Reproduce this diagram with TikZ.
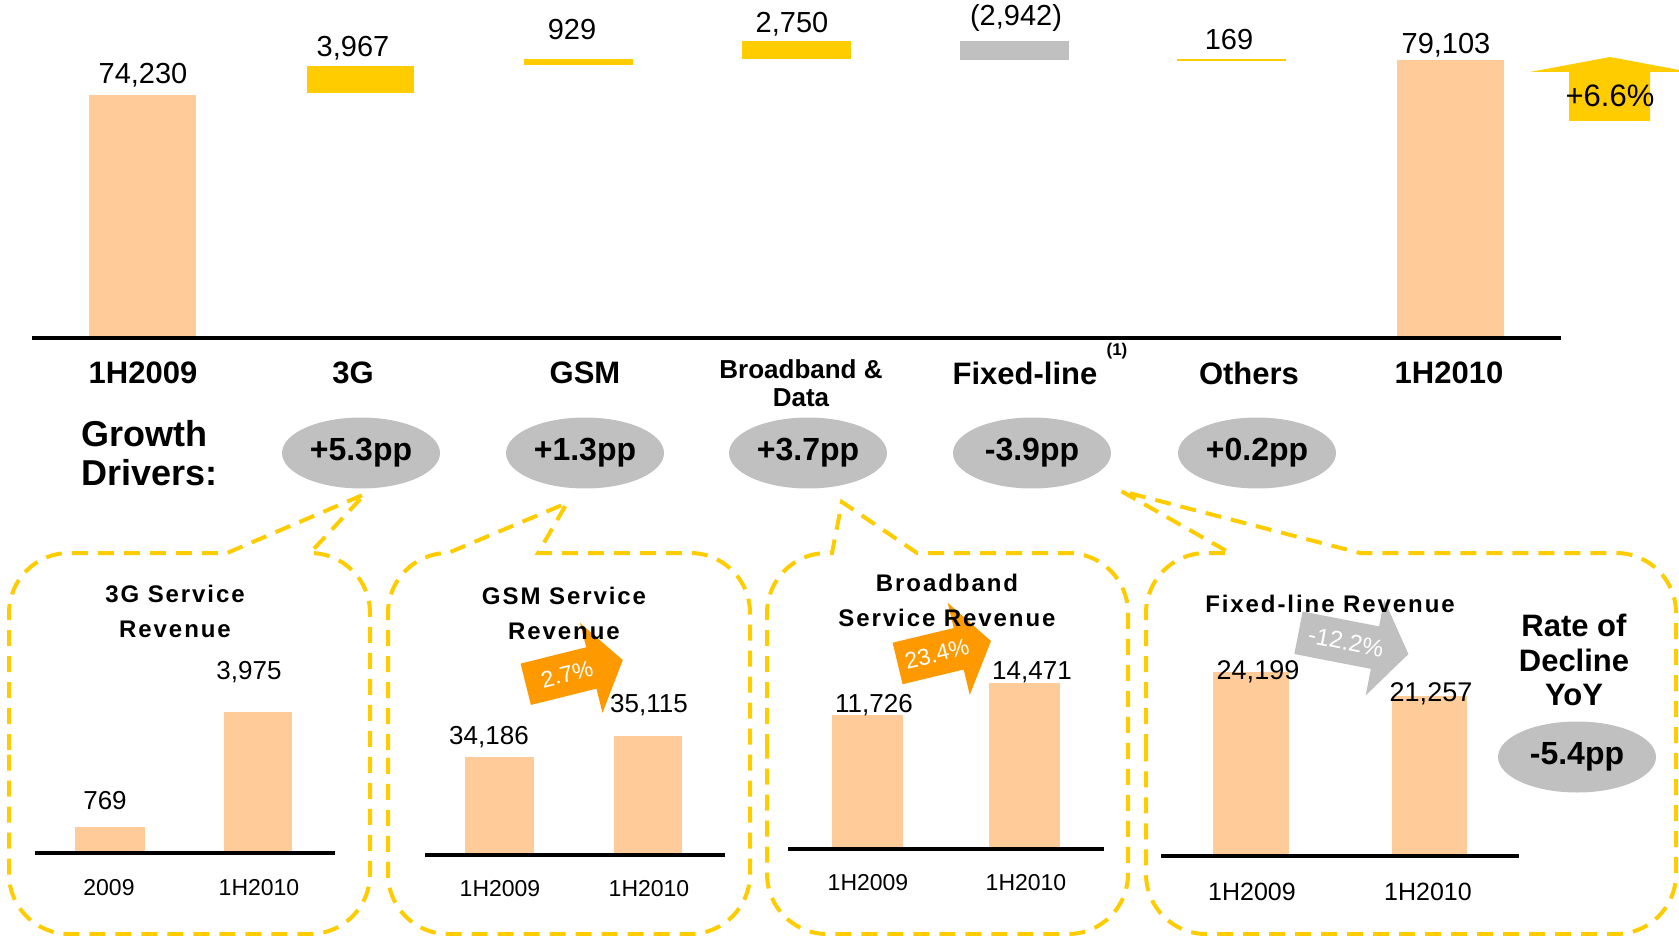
\documentclass[tikz,border=0pt]{standalone}
\usepackage{fontspec}
\setmainfont{Liberation Sans}
\newfontfamily\spaced{Liberation Sans}[LetterSpace=8]
\usetikzlibrary{shapes.geometric,shapes.arrows}
\definecolor{peach}{HTML}{FFCC99}
\definecolor{gold}{HTML}{FFCC00}
\definecolor{pgray}{HTML}{C0C0C0}
\definecolor{amber}{HTML}{FF9900}
\newcommand\fsz[1]{\fontsize{#1}{#1}\selectfont}

\begin{document}
\begin{tikzpicture}[x=1pt,y=-1pt,
  val/.style={font=\fsz{29}},
  cat/.style={font=\bfseries\fsz{31}},
  drv/.style={ellipse,fill=pgray,minimum width=158pt,minimum height=71pt,inner sep=0pt,font=\bfseries\fsz{32}},
  panel/.style={draw=gold,line width=4pt,dash pattern=on 16pt off 10pt},
  ttl/.style={font=\spaced\bfseries\fontsize{24}{35}\selectfont,align=center},
  num/.style={font=\fsz{26}},
  yr/.style={font=\fsz{23}},
  axis/.style={line width=4.5pt},
  tilt/.style={single arrow,single arrow tip angle=110,text=white,inner ysep=13pt,inner xsep=4pt}]
\useasboundingbox (0,0) rectangle (1679,936);
\clip (0,0) rectangle (1679,936);

% waterfall
\fill[peach] (89,95) rectangle (196,338);
\fill[gold] (307,66) rectangle (414,93);
\fill[gold] (524,59) rectangle (633,65);
\fill[gold] (742,41) rectangle (851,59);
\fill[pgray] (960,41) rectangle (1069,60);
\fill[gold] (1177,59) rectangle (1286,61);
\fill[peach] (1397,60) rectangle (1504,338);
\draw[line width=3.5pt] (32,338) -- (1561,338);

\node[val] (v1) at (143,75) {74,230};
\node[val] (v2) at (353,48) {3,967};
\node[val] (v3) at (572,30) {929};
\node[val] (v4) at (792,24) {2,750};
\node[val] (v5) at (1016,18) {(2,942)};
\node[val] (v6) at (1229,40) {169};
\node[val] (v7) at (1446,45) {79,103};

\fill[gold] (1569,121) -- (1569,72) -- (1530,72) -- (1610,57) -- (1690,72) -- (1650,72) -- (1650,121) -- cycle;
\node[font=\fsz{31}] (up) at (1610,96) {+6.6\%};

\node[cat] (c1) at (143,373) {1H2009};
\node[cat] (c2) at (353,373) {3G};
\node[cat] (c3) at (585,373) {GSM};
\node[font=\bfseries\fontsize{26}{28}\selectfont,align=center] (c4) at (801,383) {Broadband \&\\Data};
\node[cat] (c5) at (1025,373) {Fixed-line};
\node[font=\bfseries\fsz{17}] (fn) at (1117,351) {(1)};
\node[cat] (c6) at (1249,373) {Others};
\node[cat] (c7) at (1449,373) {1H2010};

\node[font=\bfseries\fontsize{36}{39}\selectfont,align=left,anchor=west] (gd) at (78,453) {Growth\\Drivers:};
\node[drv] (d1) at (361,453) {+5.3pp};
\node[drv] (d2) at (585,453) {+1.3pp};
\node[drv] (d3) at (808,453) {+3.7pp};
\node[drv] (d4) at (1032,453) {-3.9pp};
\node[drv] (d5) at (1257,453) {+0.2pp};

% callouts
\draw[panel] (9,750) -- (9,613) arc[start angle=180,end angle=270,radius=60] -- (227,553) -- (365,494) -- (310,553)
  arc[start angle=270,end angle=360,radius=60] -- (370,874) arc[start angle=0,end angle=90,radius=60]
  -- (69,934) arc[start angle=90,end angle=180,radius=60] -- cycle;
\draw[panel] (388,750) -- (388,613) arc[start angle=180,end angle=270,radius=60] -- (567,503) -- (538,553) -- (690,553)
  arc[start angle=270,end angle=360,radius=60] -- (750,874) arc[start angle=0,end angle=90,radius=60]
  -- (448,934) arc[start angle=90,end angle=180,radius=60] -- cycle;
\draw[panel] (767,750) -- (767,613) arc[start angle=180,end angle=270,radius=60] -- (832,553) -- (842,502) -- (917,553) -- (1068,553)
  arc[start angle=270,end angle=360,radius=60] -- (1128,874) arc[start angle=0,end angle=90,radius=60]
  -- (827,934) arc[start angle=90,end angle=180,radius=60] -- cycle;
\draw[panel] (1146,750) -- (1146,613) arc[start angle=180,end angle=270,radius=60] -- (1230,553) -- (1121,491) -- (1360,553) -- (1616,553)
  arc[start angle=270,end angle=360,radius=60] -- (1676,874) arc[start angle=0,end angle=90,radius=60]
  -- (1206,934) arc[start angle=90,end angle=180,radius=60] -- cycle;

% 3G
\fill[peach] (75,827) rectangle (145,853);
\fill[peach] (224,712) rectangle (292,853);
\draw[axis] (35,853) -- (335,853);
\node[ttl] (t1) at (175,611) {3G Service\\Revenue};
\node[num] (n11) at (105,801) {769};
\node[num] (n12) at (249,672) {3,975};
\node[yr] (y11) at (109,888) {2009};
\node[yr] (y12) at (259,888) {1H2010};

% GSM
\fill[peach] (465,757) rectangle (534,855);
\fill[peach] (614,736) rectangle (682,855);
\draw[axis] (425,855) -- (725,855);
\node[tilt,fill=amber,rotate=14,minimum height=100pt,single arrow head extend=25pt,font=\fsz{23}] (a2) at (567,674) {2.7\%};
\node[ttl] (t2) at (564,613) {GSM Service\\Revenue};
\node[num] (n21) at (489,737) {34,186};
\node[num] (n22) at (649,705) {35,115};
\node[yr] (y21) at (500,889) {1H2009};
\node[yr] (y22) at (649,889) {1H2010};

% broadband
\fill[peach] (832,715) rectangle (903,849);
\fill[peach] (989,683) rectangle (1060,849);
\draw[axis] (788,849) -- (1104,849);
\node[tilt,fill=amber,rotate=13.5,minimum height=96pt,single arrow head extend=26pt,font=\fsz{23}] (a3) at (937,654) {23.4\%};
\node[ttl] (t3) at (947,600) {Broadband\\Service Revenue};
\node[num] (n31) at (874,705) {11,726};
\node[num] (n32) at (1032,672) {14,471};
\node[yr] (y31) at (868,883) {1H2009};
\node[yr] (y32) at (1026,883) {1H2010};

% fixed-line
\fill[peach] (1213,672) rectangle (1289,856);
\fill[peach] (1392,696) rectangle (1467,856);
\draw[axis] (1161,856) -- (1519,856);
\node[tilt,fill=pgray,rotate=-11,minimum height=112pt,single arrow head extend=27pt,font=\fsz{24}] (a4) at (1346,642) {-12.2\%};
\node[ttl] (t4) at (1330,604) {Fixed-line Revenue};
\node[num,font=\fsz{27}] (n41) at (1258,672) {24,199};
\node[num,font=\fsz{27}] (n42) at (1431,694) {21,257};
\node[yr,font=\fsz{25}] (y41) at (1252,892) {1H2009};
\node[yr,font=\fsz{25}] (y42) at (1428,892) {1H2010};
\node[font=\bfseries\fontsize{31}{34.5}\selectfont,align=center] (rd) at (1574,660) {Rate of\\Decline\\YoY};
\node[drv] (d6) at (1577,757) {-5.4pp};
\end{tikzpicture}
\end{document}
